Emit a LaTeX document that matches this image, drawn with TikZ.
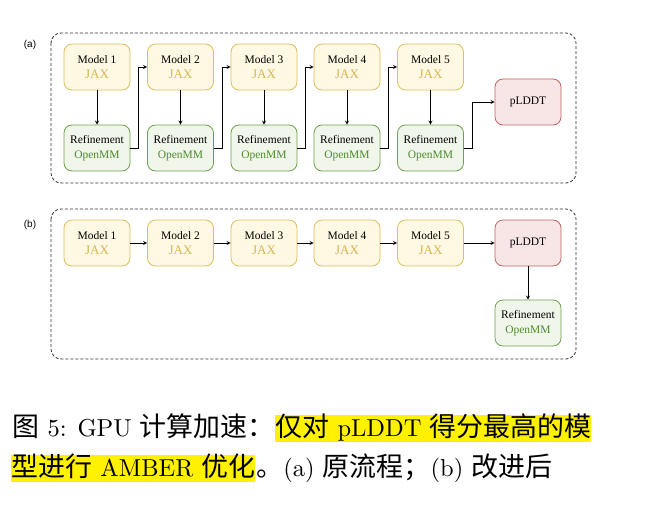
\documentclass[tikz,border=0pt]{standalone}
\usepackage{fontspec}
\newfontfamily\cjk{Noto Sans CJK SC}[Scale=1.1]
\newfontfamily\boxfont{Liberation Serif}
\newfontfamily\labfont{Liberation Sans}
\usepackage{tikz}
\usetikzlibrary{calc,arrows}

\definecolor{jaxfill}{HTML}{FFF8E3}
\definecolor{jaxline}{HTML}{DDBE5C}
\definecolor{jaxtext}{HTML}{D6B656}
\definecolor{mmfill}{HTML}{F0F7EA}
\definecolor{mmline}{HTML}{6E9F4E}
\definecolor{mmtext}{HTML}{4E8A2E}
\definecolor{lddtfill}{HTML}{F8E5E5}
\definecolor{lddtline}{HTML}{C06565}
\definecolor{marker}{HTML}{FFF100}
\newcommand{\jax}{{\color{jaxtext}\fontsize{13}{15}\selectfont JAX}}
\newcommand{\omm}{{\color{mmtext}OpenMM}}

\begin{document}
\begin{tikzpicture}[x=1pt,y=-1pt,
  box/.style={draw,line width=0.8pt,rounded corners=8pt,minimum width=66pt,minimum height=46pt,
    align=center,font=\boxfont\fontsize{11.5}{15}\selectfont,inner sep=0pt},
  model/.style={box,fill=jaxfill,draw=jaxline},
  refine/.style={box,fill=mmfill,draw=mmline},
  score/.style={box,fill=lddtfill,draw=lddtline},
  panel/.style={draw=black!80,line width=0.8pt,dash pattern=on 3pt off 2pt,rounded corners=10pt},
  link/.style={-stealth,black,line width=0.8pt},
  hilite/.style={fill=marker,text height=8.6pt,text depth=2.4pt}]
  \useasboundingbox (0,0) rectangle (652,516);
  %\draw[thin,gray!40,step=50] (0,0) grid (652,516);

  % (a) original
  \draw[panel] (51,33) rectangle (576,183);
  \node[font=\labfont\fontsize{10}{12}\selectfont] (la) at (30,45) {(a)};
  \node[model] (am1) at (97,67) {Model 1\\\jax};
  \node[model] (am2) at (180.5,67) {Model 2\\\jax};
  \node[model] (am3) at (264,67) {Model 3\\\jax};
  \node[model] (am4) at (347,67) {Model 4\\\jax};
  \node[model] (am5) at (430.5,67) {Model 5\\\jax};
  \node[refine] (ar1) at (97,148) {Refinement\\\omm};
  \node[refine] (ar2) at (180.5,148) {Refinement\\\omm};
  \node[refine] (ar3) at (264,148) {Refinement\\\omm};
  \node[refine] (ar4) at (347,148) {Refinement\\\omm};
  \node[refine] (ar5) at (430.5,148) {Refinement\\\omm};
  \node[score] (ap) at (528,102) {pLDDT};
  \draw[link] (am1) -- (ar1);
  \draw[link] (am2) -- (ar2);
  \draw[link] (am3) -- (ar3);
  \draw[link] (am4) -- (ar4);
  \draw[link] (am5) -- (ar5);
  \draw[link] (ar1.east) -- ++(8,0) |- (am2.west);
  \draw[link] (ar2.east) -- ++(8,0) |- (am3.west);
  \draw[link] (ar3.east) -- ++(8,0) |- (am4.west);
  \draw[link] (ar4.east) -- ++(8,0) |- (am5.west);
  \draw[link] (ar5.east) -- ++(8,0) |- (ap.west);

  % (b) improved
  \draw[panel] (51,209) rectangle (576,359);
  \node[font=\labfont\fontsize{10}{12}\selectfont] (lb) at (30,225) {(b)};
  \node[model] (bm1) at (97,243) {Model 1\\\jax};
  \node[model] (bm2) at (180.5,243) {Model 2\\\jax};
  \node[model] (bm3) at (264,243) {Model 3\\\jax};
  \node[model] (bm4) at (347,243) {Model 4\\\jax};
  \node[model] (bm5) at (430.5,243) {Model 5\\\jax};
  \node[score] (bp) at (528,243) {pLDDT};
  \node[refine] (br) at (528,323) {Refinement\\\omm};
  \draw[link] (bm1) -- (bm2);
  \draw[link] (bm2) -- (bm3);
  \draw[link] (bm3) -- (bm4);
  \draw[link] (bm4) -- (bm5);
  \draw[link] (bm5) -- (bp);
  \draw[link] (bp) -- (br);

  % caption
  \begin{scope}[every node/.style={anchor=base west,inner sep=0pt,scale=2.45}]
    \node (c1) at (12,436) {{\cjk 图}\ 5: GPU {\cjk 计算加速：}};
    \node[hilite] (c2) at (275,436) {{\cjk 仅对}\ pLDDT {\cjk 得分最高的模}};
    \node[hilite] (c3) at (11,476) {{\cjk 型进行}\ AMBER {\cjk 优化}};
    \node (c4) at (c3.base east) {{\cjk 。}(a) {\cjk 原流程；}(b) {\cjk 改进后}};
  \end{scope}
\end{tikzpicture}
\end{document}
